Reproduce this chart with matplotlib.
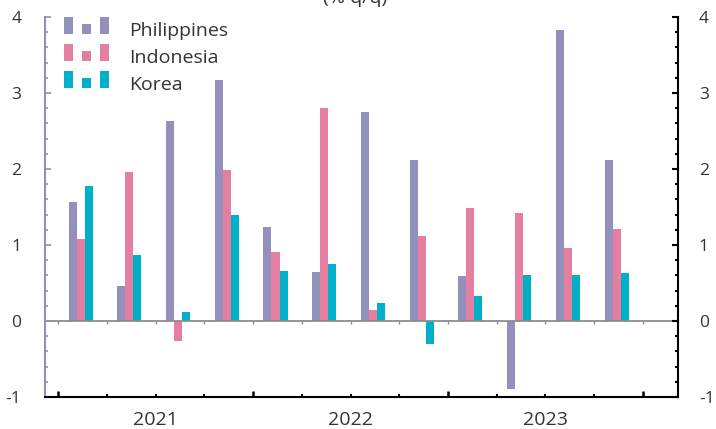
import numpy as np
import matplotlib
matplotlib.use("Agg")
import matplotlib.pyplot as plt
from matplotlib.patches import Rectangle
from matplotlib.legend_handler import HandlerBase

plt.rcParams['font.family'] = ['Open Sans', 'DejaVu Sans']
plt.rcParams['axes.unicode_minus'] = False

# quarterly GDP growth, % q/q
years = ["2021", "2022", "2023"]
quarters = ["Q1 21", "Q2 21", "Q3 21", "Q4 21",
            "Q1 22", "Q2 22", "Q3 22", "Q4 22",
            "Q1 23", "Q2 23", "Q3 23", "Q4 23"]
philippines = [1.56, 0.46, 2.63, 3.17, 1.24, 0.65, 2.75, 2.12, 0.59, -0.90, 3.83, 2.12]
indonesia = [1.08, 1.96, -0.26, 1.99, 0.91, 2.80, 0.15, 1.12, 1.49, 1.42, 0.96, 1.21]
korea = [1.78, 0.87, 0.12, 1.40, 0.66, 0.75, 0.24, -0.30, 0.33, 0.61, 0.61, 0.63]

c_phl = '#9490bc'
c_idn = '#e47fa2'
c_kor = '#00afc8'
txt = '#333333'


class ThreeBarHandler(HandlerBase):
    # legend key drawn as three small bars: tall, short, tall,
    # sitting a little above the text baseline
    def create_artists(self, legend, orig_handle, xdescent, ydescent,
                       width, height, fontsize, trans):
        color = orig_handle.patches[0].get_facecolor()
        bw = width * 0.2
        lift = 3.0
        arts = []
        for k, h in enumerate([1.0, 0.6, 1.0]):
            x0 = -xdescent + k * (width - bw) / 2
            r = Rectangle((x0, -ydescent + lift), bw, height * h, facecolor=color,
                          edgecolor='none', transform=trans)
            arts.append(r)
        return arts


fig = plt.figure(figsize=(7.16, 4.29), dpi=100)
ax = fig.add_axes([45 / 716, 32 / 429, 633 / 716, 380 / 429])

x = np.arange(len(quarters))
w = 0.165
shift = -0.04
b1 = ax.bar(x + shift - w, philippines, w, color=c_phl, label='Philippines')
b2 = ax.bar(x + shift, indonesia, w, color=c_idn, label='Indonesia')
b3 = ax.bar(x + shift + w, korea, w, color=c_kor, label='Korea')

ax.set_xlim(-0.77, len(quarters) - 0.5 + 0.72)
ax.set_ylim(-1, 4)

# zero line with small quarter separators hanging below it
bounds = np.arange(len(quarters) + 1) - 0.5
ax.axhline(0, color='#8c8c8c', lw=1.3, zorder=1)
ax.vlines(bounds, -0.04, 0, color='#8c8c8c', lw=1, zorder=1)

ax.spines['top'].set_visible(False)
ax.spines['left'].set_color(c_phl)
ax.spines['left'].set_linewidth(1.5)
ax.spines['bottom'].set_color('black')
ax.spines['bottom'].set_linewidth(1.5)
ax.spines['right'].set_visible(False)

ax.set_yticks(np.arange(-1, 5))
ax.set_yticks(np.arange(-1, 4.01, 0.2), minor=True)
ax.tick_params(axis='y', which='major', direction='in', length=4, width=1.2,
               color=c_phl, labelsize=12.5, labelcolor=txt, pad=17)
ax.tick_params(axis='y', which='minor', direction='in', length=2.5, width=1.2,
               color=c_phl)

# year boundaries as major ticks, quarter boundaries as minor ticks
ax.set_xticks(bounds[::4])
ax.set_xticks(bounds, minor=True)
ax.set_xticklabels([])
ax.tick_params(axis='x', which='major', direction='in', length=4, width=1.8, color='black')
ax.tick_params(axis='x', which='minor', direction='in', length=2, width=1.5, color='black')

for i, yr in enumerate(years):
    ax.annotate(yr, xy=(4 * i + 1.5, 0), xycoords=('data', 'axes fraction'),
                xytext=(0, -16.5), textcoords='offset points', ha='center', va='center',
                fontsize=14, color=txt)

ax2 = ax.twinx()
ax2.set_ylim(-1, 4)
ax2.set_yticks(np.arange(-1, 5))
ax2.set_yticks(np.arange(-1, 4.01, 0.2), minor=True)
for s in ['top', 'left', 'bottom']:
    ax2.spines[s].set_visible(False)
ax2.spines['right'].set_color('black')
ax2.spines['right'].set_linewidth(1.5)
ax2.tick_params(axis='y', which='major', direction='in', length=4.5, width=1.5,
                color='black', labelsize=12.5, labelcolor=txt, pad=15)
ax2.tick_params(axis='y', which='minor', direction='in', length=2.5, width=1.5,
                color='black')

fig.text(0.496, 0.993, "(% q/q)", ha='center', va='baseline', fontsize=14, color=txt)

leg = ax.legend(handles=[b1, b2, b3],
                handler_map={type(b1): ThreeBarHandler()},
                loc='upper left', bbox_to_anchor=(64 / 716, 1 - 21 / 429),
                bbox_transform=fig.transFigure, frameon=False,
                fontsize=14, handlelength=2.3, handleheight=0.98,
                handletextpad=1.05, labelspacing=0.4, borderpad=0, borderaxespad=0)
for t in leg.get_texts():
    t.set_color(txt)

fig.savefig('out.png', dpi=100)
